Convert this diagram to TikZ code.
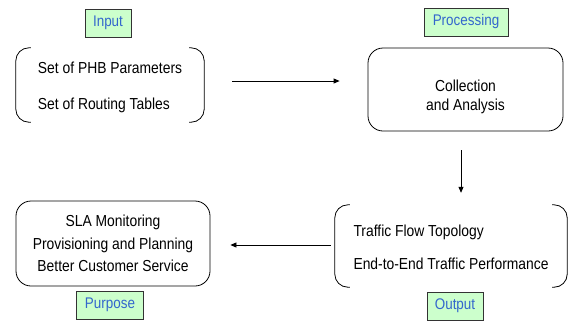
\documentclass[tikz,border=0pt]{standalone}
\usepackage{fontspec}
\setmainfont[FakeStretch=0.87]{Liberation Sans}
\usetikzlibrary{arrows.meta}
\definecolor{tagfill}{RGB}{204,255,204}
\definecolor{tagtext}{RGB}{51,102,204}
\tikzset{
  tag/.style={draw=black!80, fill=tagfill, text=tagtext, line width=0.8bp,
    font=\fontsize{15.5}{17}\selectfont, minimum height=28bp, inner xsep=0pt},
  roundbox/.style={draw, line width=0.8bp, rounded corners=15bp, align=center},
  bracketbox/.style={inner sep=0pt},
  bracket/.style={line width=0.8bp, rounded corners=13bp},
  flow/.style={line width=0.8bp, -{Triangle[length=6bp,width=5bp]}}
}
\begin{document}
\begin{tikzpicture}[x=1bp,y=-1bp]
\useasboundingbox (0,0) rectangle (571,325);

% category tags
\node[tag, minimum width=46bp] (tIn) at (108,23) {Input};
\node[tag, minimum width=84bp] (tProc) at (466,22) {Processing};
\node[tag, minimum width=56bp] (tOut) at (455,306) {Output};
\node[tag, minimum width=67bp] (tPur) at (110,305) {Purpose};

% input block (bracketed)
\node[bracketbox, minimum width=188bp, minimum height=74bp] (in) at (110,85) {};
\node[align=left, font=\fontsize{16}{36}\selectfont] (inText)
  at ([yshift=-2.5bp]in.center) {Set of PHB Parameters\\Set of Routing Tables};
\draw[bracket] ([xshift=15bp]in.north west) -- (in.north west) -- (in.south west) -- ([xshift=15bp]in.south west);
\draw[bracket] ([xshift=-15bp]in.north east) -- (in.north east) -- (in.south east) -- ([xshift=-15bp]in.south east);

% processing block
\node[roundbox, minimum width=195bp, minimum height=83bp] (coll) at (465.5,89.5) {};
\node[align=center, font=\fontsize{16}{19}\selectfont] (collText)
  at ([yshift=-7.5bp]coll.center) {Collection\\and Analysis};

% output block (bracketed)
\node[bracketbox, minimum width=232bp, minimum height=82bp] (out) at (451,246) {};
\node[align=left, font=\fontsize{16}{33}\selectfont] (outText)
  at ([yshift=-1bp]out.center) {Traffic Flow Topology\\End-to-End Traffic Performance};
\draw[bracket] ([xshift=15bp]out.north west) -- (out.north west) -- (out.south west) -- ([xshift=15bp]out.south west);
\draw[bracket] ([xshift=-15bp]out.north east) -- (out.north east) -- (out.south east) -- ([xshift=-15bp]out.south east);

% purpose block
\node[roundbox, minimum width=194bp, minimum height=85bp,
      font=\fontsize{16}{22.5}\selectfont] (sla) at (113,243.5)
  {SLA Monitoring\\Provisioning and Planning\\Better Customer Service};

% connectors
\draw[flow, shorten <=28bp, shorten >=28bp]
  ([yshift=4bp]in.east) -- ([yshift=4bp]in.east -| coll.west);
\draw[flow, shorten <=19bp, shorten >=12bp]
  ([xshift=-4.5bp]coll.south) -- ([xshift=-4.5bp]coll.south |- out.north);
\draw[flow, shorten <=4bp, shorten >=20bp]
  ([yshift=1bp]out.west) -- ([yshift=1bp]out.west -| sla.east);
\end{tikzpicture}
\end{document}
